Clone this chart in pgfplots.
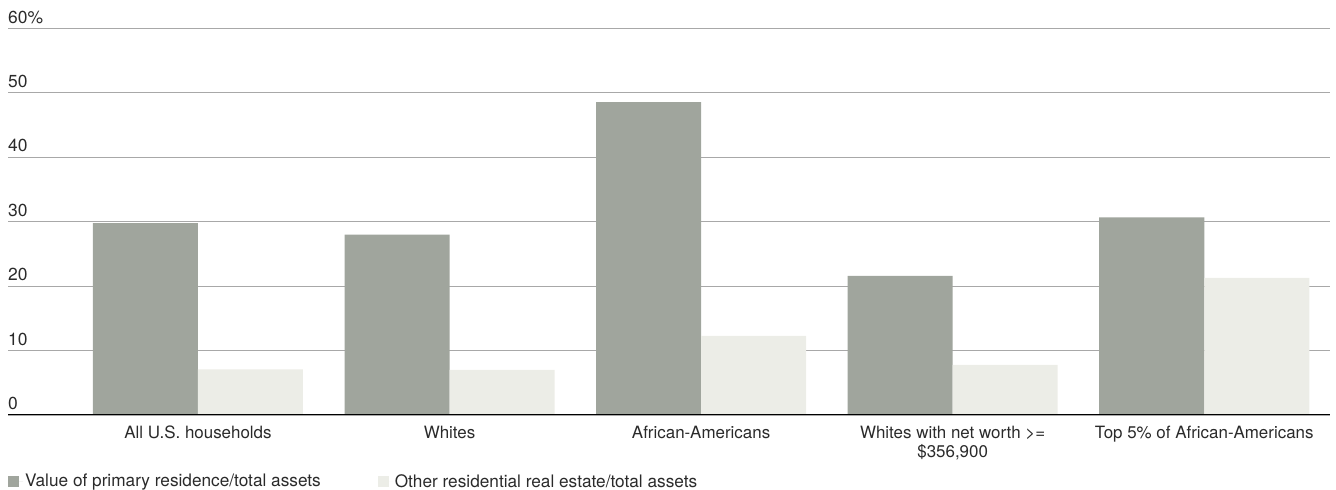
\documentclass[border=0pt]{standalone}
\usepackage{fontspec}
\setmainfont{TeX Gyre Heros}
\usepackage{pgfplots}
\pgfplotsset{compat=1.18}
\definecolor{barA}{HTML}{A0A59D}
\definecolor{barB}{HTML}{ECEDE7}
\definecolor{txt}{HTML}{2A2A2A}
\definecolor{gridc}{HTML}{A8A8A8}
\begin{document}
\begin{tikzpicture}
\path[use as bounding box] (0,0) rectangle (1336bp,490bp);
\begin{axis}[
  at={(8bp,75bp)}, anchor=south west,
  scale only axis, width=1322bp, height=386.4bp,
  xmin=-0.755, xmax=4.5, ymin=0, ymax=60,
  ybar=0pt, bar width=105bp,
  axis x line*=bottom, axis y line*=left,
  x axis line style={draw=none},
  y axis line style={draw=none},
  major tick length=0pt,
  ymajorgrids, grid style={gridc, line width=1bp},
  ytick={0,10,20,30,40,50,60},
  yticklabels={0,10,20,30,40,50,60\%},
  yticklabel style={anchor=south west, inner sep=0pt, yshift=5bp, font=\fontsize{17.5}{19}\selectfont, text=txt},
  xtick={0,1,2,3,4},
  xticklabels={All U.S. households, Whites, African-Americans, {Whites with net worth >=\\\$356,900}, Top 5\% of African-Americans},
  xticklabel style={align=center, anchor=north, inner sep=0pt, yshift=-11bp, font=\fontsize{17}{19}\selectfont, text=txt},
  legend image code/.code={\fill[#1,/tikz/.cd] (0bp,-5.5bp) rectangle (11bp,5.5bp); \path (0bp,0bp) -- (15bp,0bp);},
  legend style={at={(0,0)}, anchor=north west, xshift=0bp, yshift=-57bp, draw=none, fill=none, inner sep=0pt,
    font=\fontsize{17.3}{19}\selectfont, text=txt, legend columns=2,
    /tikz/every even column/.append style={column sep=55bp}},
  legend cell align=left,
]
\addplot[fill=barA, draw=none] coordinates {(0,29.8) (1,28.0) (2,48.6) (3,21.6) (4,30.7)};
\addplot[fill=barB, draw=none] coordinates {(0,7.1) (1,7.0) (2,12.3) (3,7.8) (4,21.3)};
\legend{Value of primary residence/total assets, Other residential real estate/total assets}
\draw[black, line width=2.5bp] (rel axis cs:0,0) -- (rel axis cs:1,0);
\end{axis}
\end{tikzpicture}
\end{document}
